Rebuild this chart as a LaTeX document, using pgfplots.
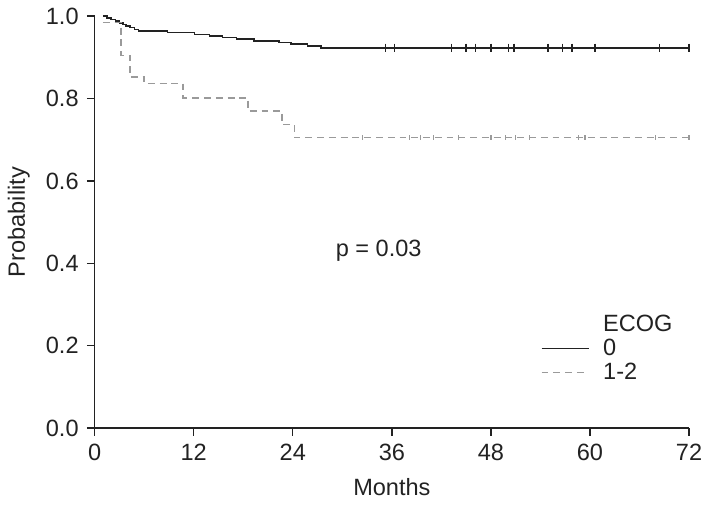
\documentclass[border=0pt]{standalone}
\usepackage{fontspec}
\setmainfont{Liberation Sans}
\usepackage{pgfplots}
\pgfplotsset{compat=1.18}

\definecolor{kmblack}{HTML}{222222}
\definecolor{kmgray}{HTML}{9A9A9A}

% Kaplan-Meier steps
\pgfplotstableread{
t s
1.0 1.000
1.5 0.996
2.0 0.992
2.5 0.988
3.0 0.984
3.4 0.980
3.8 0.976
4.3 0.972
4.8 0.968
5.3 0.964
8.8 0.960
12.1 0.956
13.9 0.952
15.5 0.948
17.2 0.944
19.3 0.940
22.3 0.936
23.8 0.932
25.8 0.927
27.4 0.923
72.0 0.923
}\ecogzero

\pgfplotstableread{
t s
1.0 0.985
3.2 0.905
4.25 0.853
6.0 0.837
10.7 0.802
18.6 0.770
22.7 0.737
24.2 0.705
72.0 0.705
}\ecogone

\begin{document}
\fontsize{12}{14}\selectfont
\begin{tikzpicture}
\begin{axis}[
    scale only axis,
    width=303pt, height=210pt,
    xmin=0, xmax=72, ymin=0, ymax=1,
    axis lines=left,
    axis line style={-, kmblack, line width=0.7pt},
    xtick={0,12,...,72},
    ytick={0,0.2,0.4,0.6,0.8,1.0},
    tick align=outside,
    major tick length=4pt,
    tick style={kmblack, line width=0.7pt},
    yticklabel style={/pgf/number format/.cd, fixed, fixed zerofill, precision=1},
    /pgf/number format/assume math mode=true,
    ticklabel style={text=kmblack},
    xlabel={Months}, ylabel={Probability},
    label style={text=kmblack},
    xlabel style={yshift=-1pt},
    clip=false,
    legend style={at={(rel axis cs:0.74,0.295)}, anchor=north west,
        draw=none, fill=none, row sep=-2pt, column sep=5pt, text=kmblack},
    legend cell align=left,
    legend image code/.code={\draw[#1] (0pt,0pt) -- (24pt,0pt);},
]
\addlegendimage{empty legend}
\addlegendentry{ECOG}

\addplot[const plot mark left, kmblack, line width=0.8pt] table[x=t, y=s] {\ecogzero};
\addlegendentry{0}
\addplot[const plot mark left, kmgray, line width=0.8pt, dash pattern=on 3.5pt off 2.5pt] table[x=t, y=s] {\ecogone};
\addlegendentry{1-2}

% censoring marks
\addplot[forget plot, only marks, mark=|, mark size=2.2pt, kmblack, mark options={line width=0.7pt}] coordinates {
(35.2,0.923) (36.3,0.923) (43.2,0.923) (45.0,0.923) (46.1,0.923) (48.0,0.923) (50.1,0.923)
(50.8,0.923) (54.9,0.923) (56.7,0.923) (57.8,0.923) (60.6,0.923) (68.4,0.923) (72.0,0.923)};
\addplot[forget plot, only marks, mark=|, mark size=1.2pt, kmgray, mark options={line width=0.6pt}] coordinates {
(32.4,0.705) (38.1,0.705) (39.5,0.705) (41.0,0.705) (44.1,0.705) (48.0,0.705) (49.8,0.705)
(51.0,0.705) (52.7,0.705) (58.6,0.705) (59.4,0.705) (67.9,0.705) (72.0,0.705)};

\node[text=kmblack] at (axis cs:34.4,0.431) {p = 0.03};
\end{axis}
\end{tikzpicture}
\end{document}
